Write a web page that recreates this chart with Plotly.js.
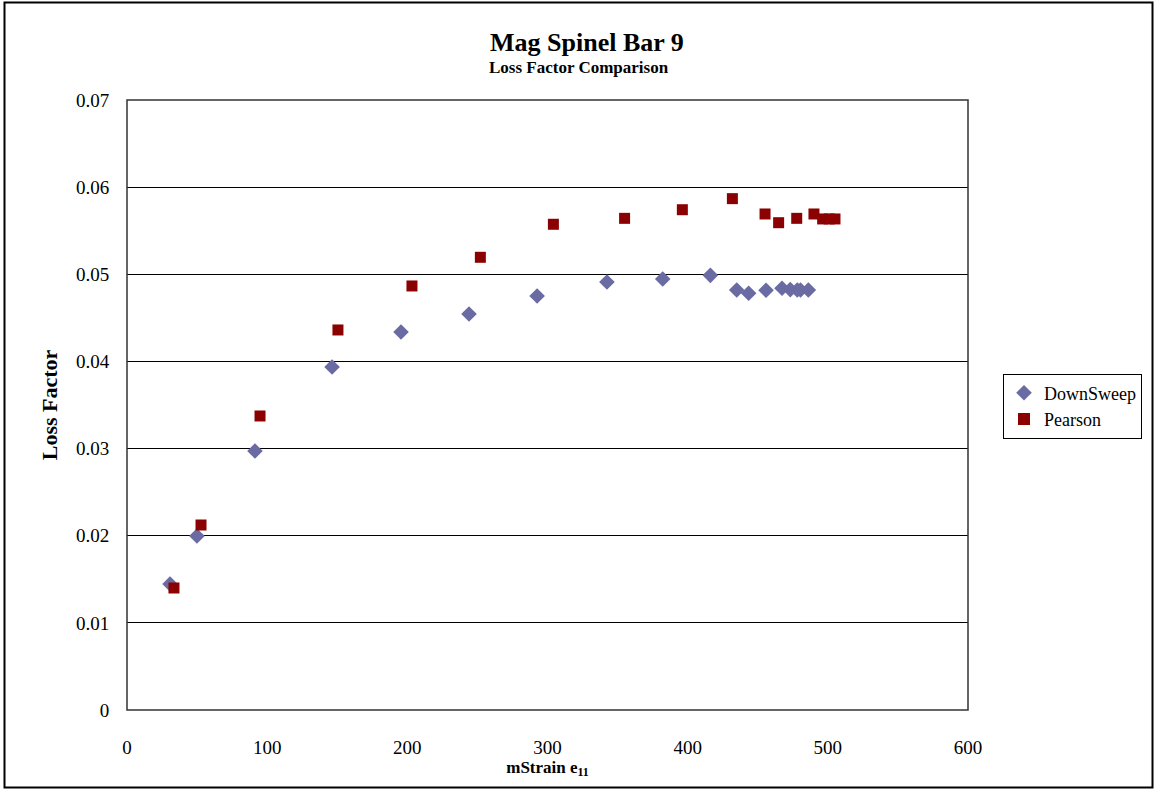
<!DOCTYPE html>
<html>
<head>
<meta charset="utf-8">
<script src="https://cdn.plot.ly/plotly-3.0.1.min.js"></script>
<style>html,body{margin:0;padding:0;background:#fff;}#chart{width:1154px;height:790px;}</style>
</head>
<body>
<div id="chart"></div>
<script>
const downSweepX = [30.7, 49.9, 91.3, 146.3, 195.5, 244.0, 292.6, 342.4, 382.2, 416.2, 435.0, 443.5, 455.9, 467.3, 473.2, 478.2, 480.5, 486.1];
const downSweepY = [0.01446, 0.01997, 0.02972, 0.03936, 0.04338, 0.04544, 0.04751, 0.04912, 0.04946, 0.04988, 0.0482, 0.04782, 0.04816, 0.0484, 0.04824, 0.0482, 0.0482, 0.0482];
const pearsonX = [33.5, 52.8, 94.9, 150.5, 203.3, 252.1, 304.2, 355.0, 396.2, 431.9, 455.2, 464.9, 477.8, 490.1, 496.3, 501.0, 505.1];
const pearsonY = [0.0140, 0.02123, 0.03374, 0.04361, 0.04866, 0.05195, 0.05574, 0.05642, 0.05741, 0.05868, 0.05692, 0.05592, 0.05642, 0.05692, 0.05635, 0.05635, 0.05635];
const seriesNames = ["DownSweep", "Pearson"];
const xTicks = [0, 100, 200, 300, 400, 500, 600];
const yTicks = [0, 0.01, 0.02, 0.03, 0.04, 0.05, 0.06, 0.07];
const yTickLabels = ["0", "0.01", "0.02", "0.03", "0.04", "0.05", "0.06", "0.07"];
const titleText = "Mag Spinel Bar 9";
const subtitleText = "Loss Factor Comparison";

const font = "Liberation Serif, Times New Roman, serif";

const traces = [
  {x: downSweepX, y: downSweepY, name: seriesNames[0], mode: "markers", type: "scatter",
   marker: {symbol: "diamond", size: 12, color: "#6B6BA3", line: {width: 0}}},
  {x: pearsonX, y: pearsonY, name: seriesNames[1], mode: "markers", type: "scatter",
   marker: {symbol: "square", size: 11, color: "#8B0000", line: {width: 0}}}
];

const layout = {
  width: 1154, height: 790,
  margin: {l: 127, r: 186, t: 100, b: 80},
  paper_bgcolor: "#ffffff", plot_bgcolor: "#ffffff",
  font: {family: font, size: 19, color: "#000"},
  showlegend: true,
  xaxis: {range: [0, 600], tickvals: xTicks, ticktext: xTicks.map(String), showgrid: false, zeroline: false,
          showline: false, ticks: "outside", ticklen: 20, tickcolor: "rgba(0,0,0,0)", tickfont: {family: font, size: 19}, automargin: false,
          title: {text: "<b>mStrain e<sub>11</sub></b>", font: {family: font, size: 17}, standoff: 2}},
  yaxis: {range: [0, 0.07], tickvals: yTicks, ticktext: yTickLabels, showgrid: true, gridcolor: "#000", gridwidth: 1,
          zeroline: false, showline: false, ticks: "outside", ticklen: 13, tickcolor: "rgba(0,0,0,0)", tickfont: {family: font, size: 19}, automargin: false,
          title: {text: "<b>Loss Factor</b>", font: {family: font, size: 22}, standoff: 12}},
  legend: {x: (1003-127)/841, xanchor: "left", y: (710-406)/610, yanchor: "middle", bordercolor: "#000", borderwidth: 1,
           bgcolor: "#fff", font: {family: font, size: 18}, itemsizing: "constant", tracegroupgap: 0, itemwidth: 30},
  annotations: [
    {text: "<b>" + titleText + "</b>", xref: "paper", yref: "paper", x: (587-127)/841, y: (710-42)/610,
     xanchor: "center", yanchor: "middle", showarrow: false, font: {family: font, size: 26, color: "#000"}},
    {text: "<b>" + subtitleText + "</b>", xref: "paper", yref: "paper", x: (579-127)/841, y: (710-67)/610,
     xanchor: "center", yanchor: "middle", showarrow: false, font: {family: font, size: 17, color: "#000"}}
  ],
  shapes: [
    {type: "rect", xref: "paper", yref: "paper", x0: 0, x1: 1, y0: 0, y1: 1, line: {color: "#333", width: 1.5}},
    {type: "rect", xref: "paper", yref: "paper", x0: (4.5-127)/841, x1: (1152.5-127)/841, y0: (710-787.5)/610, y1: (710-2.5)/610,
     line: {color: "#000", width: 2}}
  ]
};

Plotly.newPlot("chart", traces, layout, {displayModeBar: false, staticPlot: true});
</script>
</body>
</html>
